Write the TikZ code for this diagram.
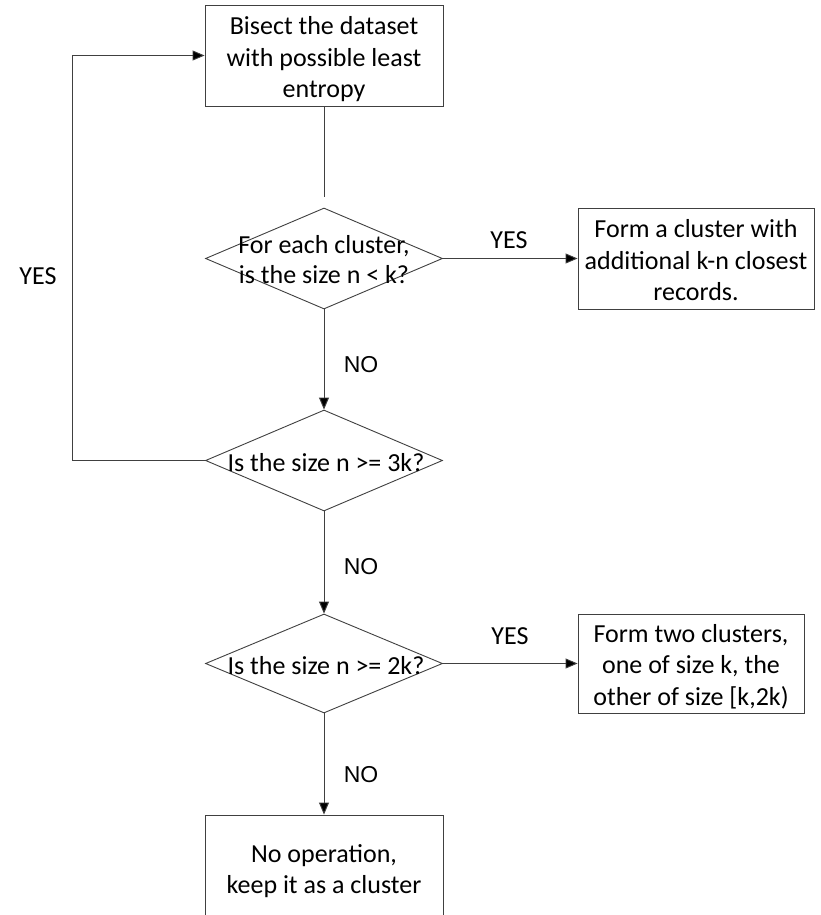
\documentclass[tikz,border=0pt]{standalone}
\usepackage{fontspec}
\setmainfont{Carlito}
\newfontfamily\arialf{Liberation Sans}
\usetikzlibrary{shapes.geometric,arrows.meta}
\tikzset{
  ln/.style={draw=black!75, line width=0.9pt},
  arr/.style={ln, -{Triangle[length=12pt,width=10pt,fill=black]}},
  procbox/.style={ln, rectangle, inner sep=0pt},
  ptext/.style={align=center, inner sep=0pt, font=\fontsize{26}{31.5}\selectfont},
  decide/.style={ln, diamond, inner sep=0pt, minimum width=237pt},
  dtext/.style={align=center, inner sep=0pt, font=\fontsize{26}{30}\selectfont},
  yeslab/.style={font=\fontsize{26}{30}\selectfont, inner sep=0pt},
  nolab/.style={font=\arialf\fontsize{23}{27}\selectfont, inner sep=0pt}
}
\begin{document}
\begin{tikzpicture}[x=1pt,y=-1pt]
\useasboundingbox (0,0) rectangle (820,915);
\fill[white] (0,0) rectangle (820,915);

\node[procbox, minimum width=238pt, minimum height=101pt,
  label={[ptext, yshift=-4pt]center:Bisect the dataset\\with possible least\\entropy}]
  (top) at (324,55.5) {};
\coordinate (gap) at (324,197);

\node[decide, minimum height=101pt,
  label={[dtext, yshift=-1pt]center:For each cluster,\\is the size n < k?}]
  (d1) at (324,258.5) {};

\node[procbox, minimum width=236pt, minimum height=101pt,
  label={[ptext, yshift=-2pt]center:Form a cluster with\\additional k-n closest\\records.}]
  (b2) at (696,258.5) {};

\node[decide, minimum height=101pt,
  label={[dtext, xshift=2pt, yshift=-2pt]center:Is the size n >= 3k?}]
  (d2) at (324,460.5) {};

\node[decide, minimum height=99pt,
  label={[dtext, xshift=2pt, yshift=-2pt]center:Is the size n >= 2k?}]
  (d3) at (324,663.5) {};

\node[procbox, minimum width=226pt, minimum height=99pt,
  label={[ptext, yshift=-3pt]center:Form two clusters,\\one of size k, the\\other of size [k,2k)}]
  (b3) at (691,663.5) {};

\node[procbox, minimum width=238pt, minimum height=112pt,
  label={[ptext]center:No operation,\\keep it as a cluster}]
  (b4) at (324,871) {};

\coordinate (fb) at (72,0);

\draw[ln] (top.south) -- (gap);
\draw[arr] (d1.east) -- (b2.west);
\draw[arr] (d1.south) -- (d2.north);
\draw[arr] (d2.west) -| (fb |- top.west) -- (top.west);
\draw[arr] (d2.south) -- (d3.north);
\draw[arr] (d3.east) -- (b3.west);
\draw[arr] (d3.south) -- (b4.north);

\node[yeslab] (y1) at (509,240) {YES};
\node[yeslab] (y2) at (38,276) {YES};
\node[yeslab] (y3) at (510,636) {YES};
\node[nolab] (n1) at (361,365) {NO};
\node[nolab] (n2) at (361,567) {NO};
\node[nolab] (n3) at (361,775) {NO};
\end{tikzpicture}
\end{document}
